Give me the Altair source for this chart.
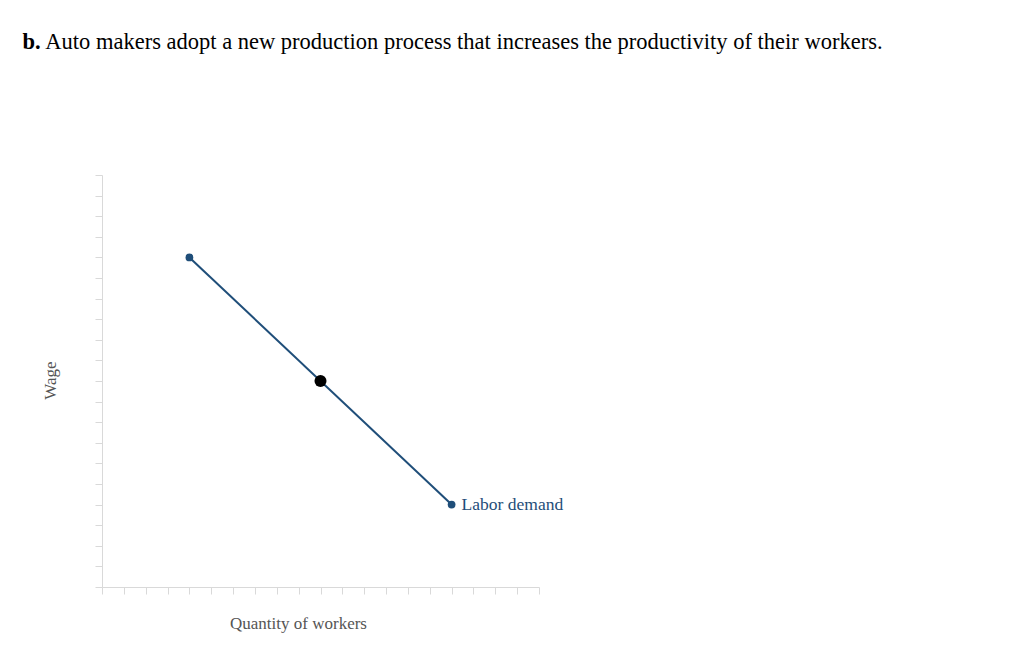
import altair as alt
import pandas as pd

# Data
demand_q = [4, 16]
demand_w = [16, 4]
eq_q = [10]
eq_w = [10]
curve_label = ["Labor demand"]
tick_values = list(range(0, 21))

line_color = "#1f4e79"
font = "Liberation Serif"

demand = pd.DataFrame({"q": demand_q, "w": demand_w})
eq = pd.DataFrame({"q": eq_q, "w": eq_w})
lab = pd.DataFrame({"q": demand_q[-1:], "w": demand_w[-1:], "t": curve_label})

xs = alt.Scale(domain=[0, 20], nice=False)
ys = alt.Scale(domain=[0, 20], nice=False)

x_axis = alt.Axis(values=tick_values, tickCount=40, labels=False, grid=False, tickSize=7,
                  tickColor="#d9d9d9", domainColor="#d9d9d9", title="Quantity of workers",
                  titleFont=font, titleFontSize=17, titleFontWeight="normal",
                  titleColor="#555555", titleX=196, titleY=41, titleBaseline="alphabetic",
                  titleAlign="center")
y_axis = alt.Axis(values=tick_values, tickCount=40, labels=False, grid=False, tickSize=7,
                  tickColor="#d9d9d9", domainColor="#d9d9d9", title="Wage",
                  titleFont=font, titleFontSize=17, titleFontWeight="normal",
                  titleColor="#555555", titleX=-47, titleY=205, titleBaseline="alphabetic",
                  titleAlign="center", titleAngle=-90)

X = alt.X("q:Q", scale=xs, axis=x_axis)
Y = alt.Y("w:Q", scale=ys, axis=y_axis)

line = alt.Chart(demand).mark_line(color=line_color, strokeWidth=2).encode(x=X, y=Y)
ends = alt.Chart(demand).mark_point(filled=True, color=line_color, size=60, opacity=1).encode(x=X, y=Y)
eqpt = alt.Chart(eq).mark_point(filled=True, color="#000000", size=145, opacity=1).encode(x=X, y=Y)
label = alt.Chart(lab).mark_text(align="left", baseline="middle", dx=10, font=font,
                                 fontSize=17.5, color=line_color).encode(x=X, y=Y, text="t:N")

title_df = pd.DataFrame({"a": ["b."], "b": ["Auto makers adopt a new production process that increases the productivity of their workers."]})
title_bold = alt.Chart(title_df).mark_text(align="left", baseline="alphabetic", font=font,
                                           fontSize=22.5, fontWeight="bold", color="#000000").encode(
    x=alt.value(-79.5), y=alt.value(-126.5), text="a:N"
)
title_rest = alt.Chart(title_df).mark_text(align="left", baseline="alphabetic", font=font,
                                           fontSize=22.5, color="#000000").encode(
    x=alt.value(-56.7), y=alt.value(-126.5), text="b:N"
)

chart = alt.layer(line, ends, eqpt, label, title_bold, title_rest).properties(
    width=437, height=412,
    background="white",
    autosize=alt.AutoSizeParams(type="none"),
    padding={"left": 94, "top": 167, "right": 400, "bottom": 60},
).configure_view(stroke=None)

chart.save("out.html", embed_options={"renderer": "svg", "actions": False})
